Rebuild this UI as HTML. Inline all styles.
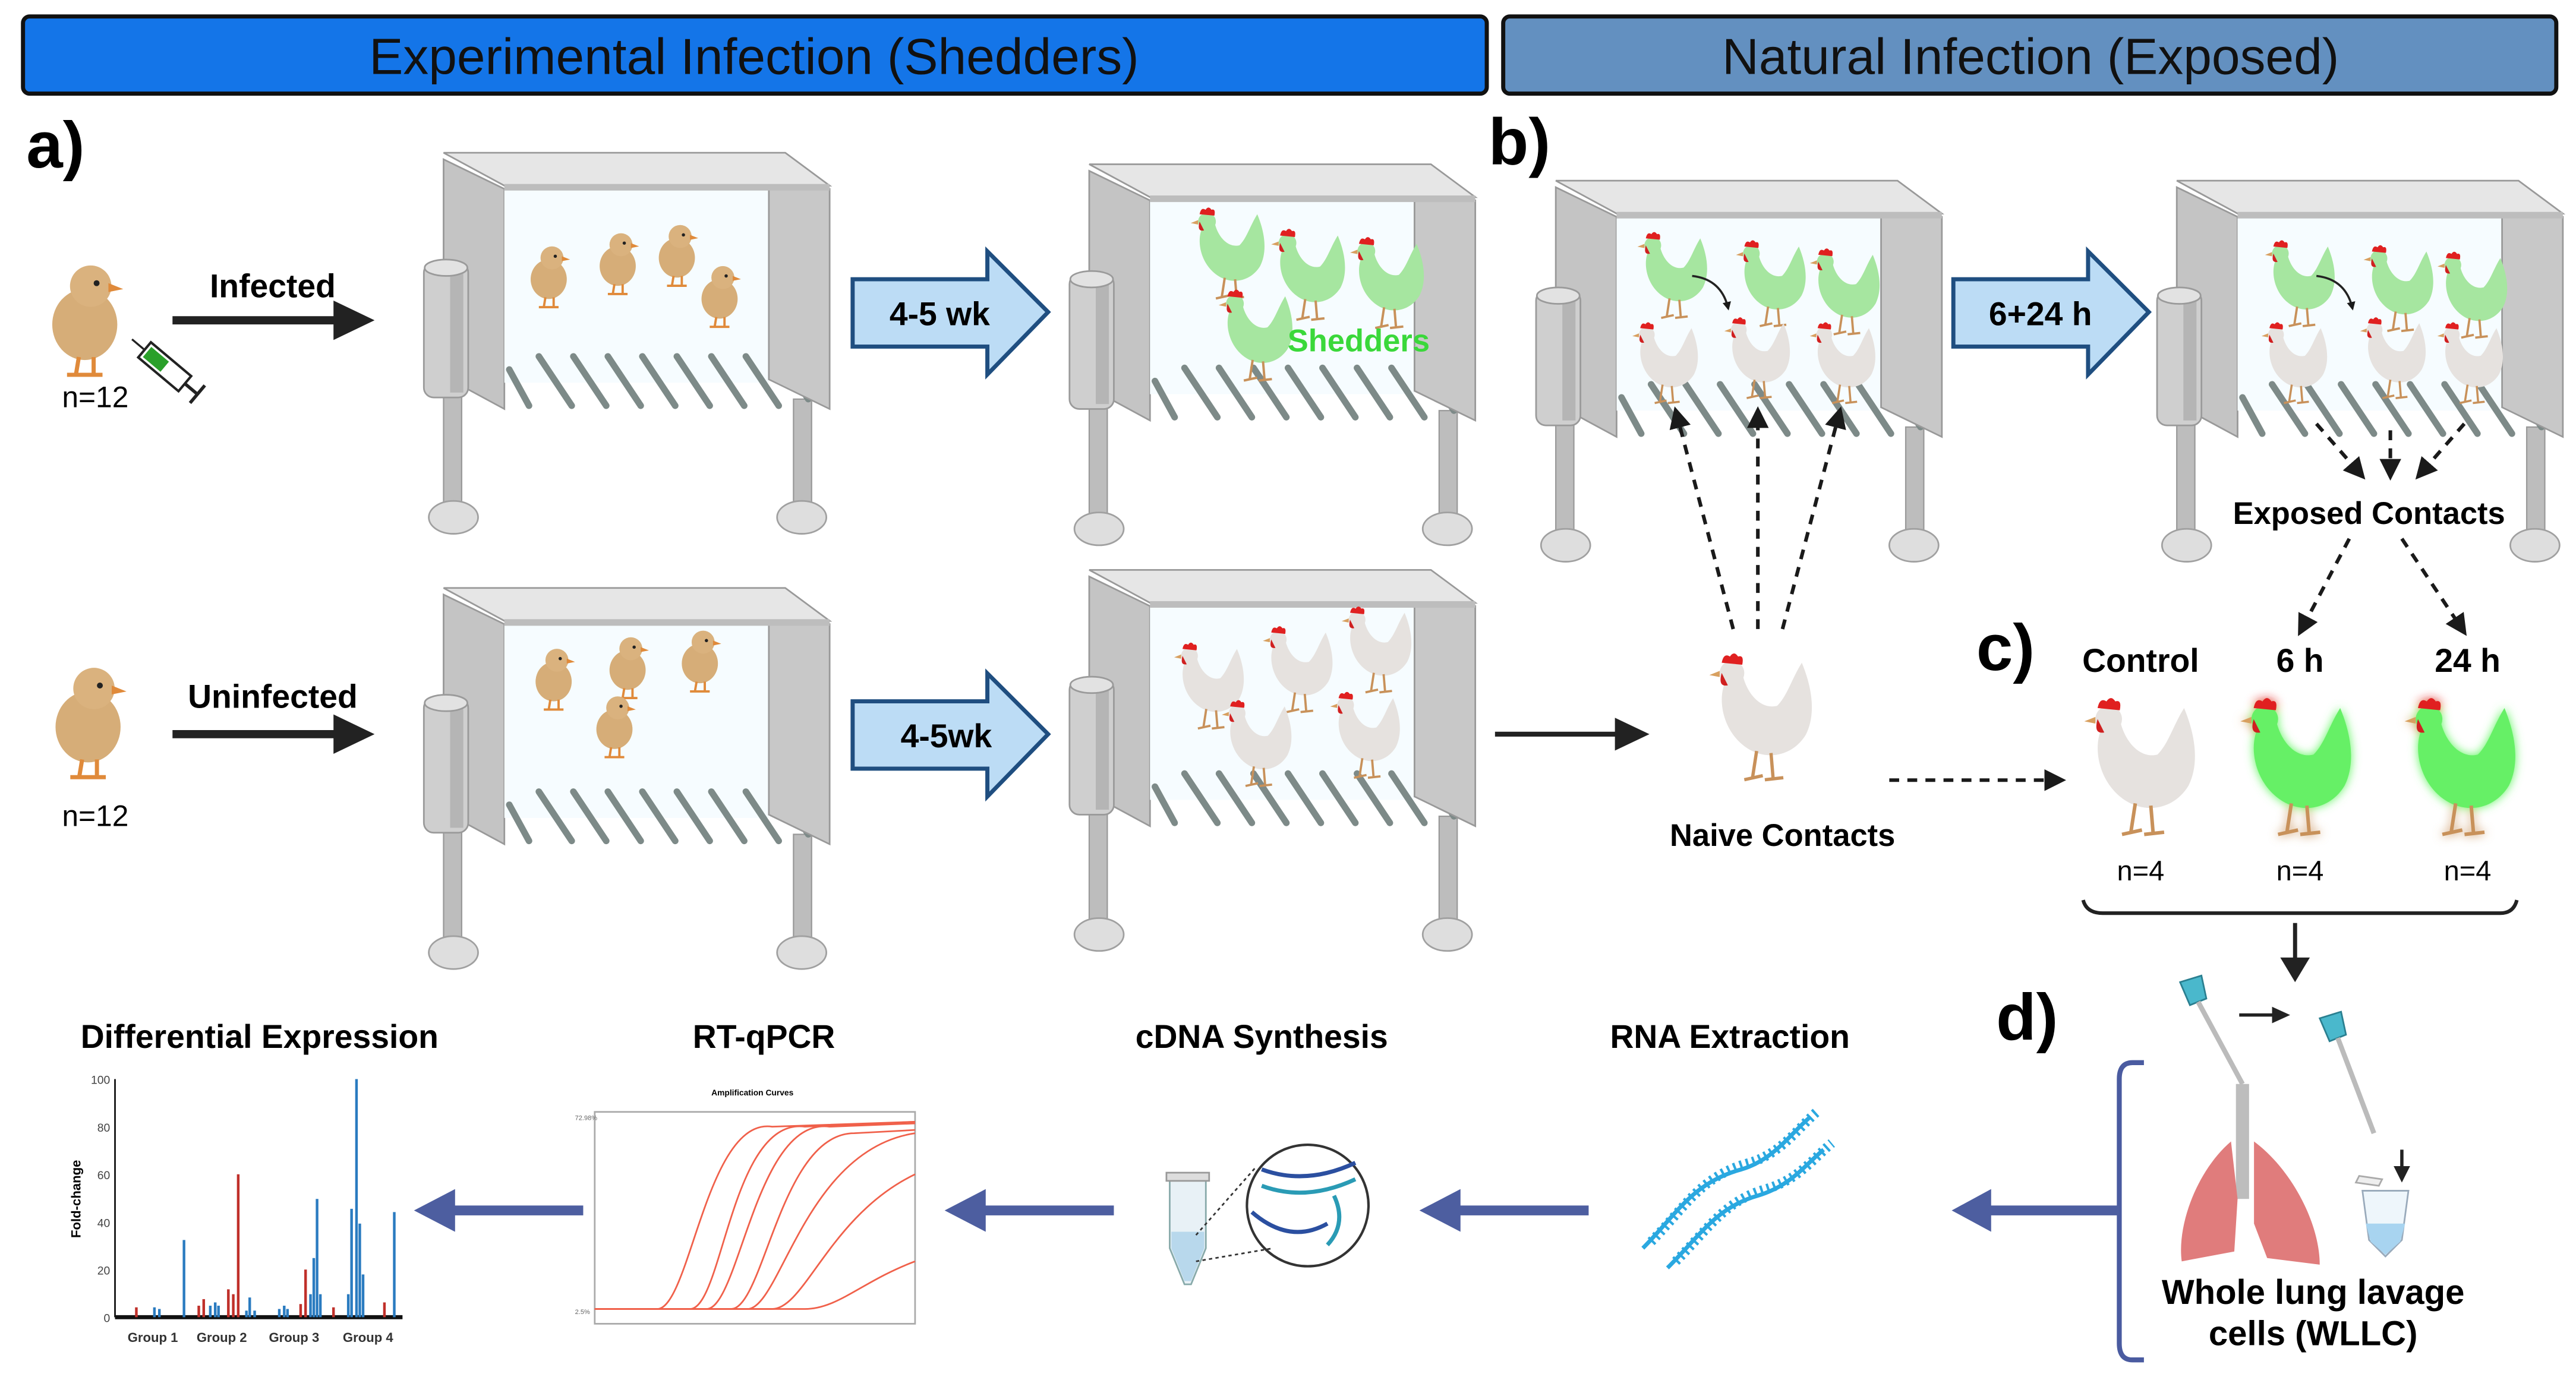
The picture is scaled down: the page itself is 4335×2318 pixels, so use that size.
<!DOCTYPE html>
<html><head><meta charset="utf-8"><style>
html,body{margin:0;padding:0;background:#fff;}
svg{display:block;}
text{font-family:"Liberation Sans",sans-serif;}
</style></head><body>
<svg width="4335" height="2318" viewBox="0 0 1568 838.4" xmlns="http://www.w3.org/2000/svg">
<defs>
<marker id="ah" viewBox="0 0 10 10" refX="8" refY="5" markerWidth="4" markerHeight="4" orient="auto"><path d="M0,0 L10,5 L0,10 Z" fill="#1a1a1a"/></marker>
<marker id="ahs" viewBox="0 0 10 10" refX="8" refY="5" markerWidth="6" markerHeight="6" orient="auto"><path d="M0,0 L10,5 L0,10 Z" fill="#1a1a1a"/></marker>
<g id="cage">
 <rect x="0" y="147" width="11" height="72" fill="#bdbdbd" stroke="#999" stroke-width="0.8"/>
 <ellipse cx="6" cy="222" rx="15" ry="10" fill="#dedede" stroke="#a0a0a0"/>
 <rect x="213" y="150" width="11" height="69" fill="#bdbdbd" stroke="#999" stroke-width="0.8"/>
 <ellipse cx="218" cy="222" rx="15" ry="10" fill="#dedede" stroke="#a0a0a0"/>
 <polygon points="0,4 37,22 37,156 0,136" fill="#c4c4c4" stroke="#999"/>
 <rect x="37" y="22" width="161" height="118" fill="#f6fcff"/>
 <g stroke="#7d8a88" stroke-width="4" stroke-linecap="round">
  <line x1="40" y1="132" x2="52" y2="154"/><line x1="58" y1="124" x2="78" y2="154"/><line x1="79" y1="124" x2="99" y2="154"/><line x1="100" y1="124" x2="120" y2="154"/><line x1="121" y1="124" x2="141" y2="154"/><line x1="142" y1="124" x2="162" y2="154"/><line x1="163" y1="124" x2="183" y2="154"/><line x1="184" y1="124" x2="204" y2="154"/><line x1="205" y1="124" x2="222" y2="150"/>
 </g>
 <polygon points="198,22 235,22 235,156 198,138" fill="#c8c8c8" stroke="#999"/>
 <polygon points="0,0 208,0 235,20 37,20" fill="#e6e6e6" stroke="#999"/>
 <rect x="37" y="19" width="198" height="4" fill="#bdbdbd"/>
 <rect x="-12" y="67" width="27" height="82" rx="6" fill="#cfcfcf" stroke="#9a9a9a"/>
 <rect x="4" y="70" width="8" height="76" fill="#b5b5b5"/>
 <ellipse cx="1.5" cy="70" rx="13" ry="5" fill="#e2e2e2" stroke="#9a9a9a"/>
</g>
<g id="hen">
 <path d="M11,13 C5,22 8,40 21,48 C31,54 43,51 49,41 C54,31 52,18 47,6 C42,14 40,22 35,27 C27,29 20,21 18,11 Z"/>
 <circle cx="13" cy="11" r="6"/>
 <path d="M8,6 Q9,1 12,3 Q14,0 16,3 Q19,2 18,7 Z" fill="#e02020"/>
 <path d="M8,11 Q6,18 11,17 Z" fill="#d02020"/>
 <path d="M7,10 L2,12 L7,13 Z" fill="#d8a060"/>
 <path d="M25,49 L23,62 M32,50 L33,62 M19,63 L28,61 M29,63 L38,62" stroke="#c8915a" stroke-width="1.6" fill="none"/>
</g>
<g id="chick">
 <ellipse cx="12" cy="22" rx="11" ry="12" fill="#d6ad78"/>
 <circle cx="14" cy="9" r="7" fill="#dab27e"/>
 <path d="M20,8 L25,10 L20,11 Z" fill="#e08a3a"/>
 <circle cx="16" cy="8" r="1" fill="#222"/>
 <path d="M10,33 L9,39 M15,33 L15,39 M6,39 L12,39 M12,39 L18,39" stroke="#e08a3a" stroke-width="1.4"/>
</g>
<filter id="glow" x="-30%" y="-30%" width="160%" height="160%"><feGaussianBlur stdDeviation="3"/></filter>
</defs>

<rect x="14" y="10" width="891" height="47" rx="4" fill="#1475e8" stroke="#111" stroke-width="2.5"/>
<text x="459" y="45" font-size="31" text-anchor="middle" fill="#111">Experimental Infection (Shedders)</text>
<rect x="915" y="10" width="641" height="47" rx="4" fill="#6390c0" stroke="#111" stroke-width="2.5"/>
<text x="1236" y="45" font-size="31" text-anchor="middle" fill="#111">Natural Infection (Exposed)</text>

<text x="16" y="102" font-size="40" font-weight="bold">a)</text>
<text x="906" y="100" font-size="40" font-weight="bold">b)</text>
<text x="1203" y="408" font-size="40" font-weight="bold">c)</text>
<text x="1215" y="633" font-size="40" font-weight="bold">d)</text>

<use href="#cage" transform="translate(270,93)"/>
<use href="#cage" transform="translate(663,100)"/>
<use href="#cage" transform="translate(270,358)"/>
<use href="#cage" transform="translate(663,347)"/>
<use href="#cage" transform="translate(947,110)"/>
<use href="#cage" transform="translate(1325,110)"/>

<use href="#chick" transform="translate(322,148) scale(1.0)"/>
<use href="#chick" transform="translate(364,140) scale(1.0)"/>
<use href="#chick" transform="translate(400,135) scale(1.0)"/>
<use href="#chick" transform="translate(426,160) scale(1.0)"/>
<use href="#chick" transform="translate(325,393) scale(1.0)"/>
<use href="#chick" transform="translate(370,386) scale(1.0)"/>
<use href="#chick" transform="translate(414,382) scale(1.0)"/>
<use href="#chick" transform="translate(362,422) scale(1.0)"/>

<use href="#chick" transform="translate(30,158) scale(1.8)"/>
<g transform="translate(88,213) rotate(40)"><rect x="0" y="-6" width="32" height="12" fill="#fff" stroke="#222" stroke-width="1.5"/><rect x="2" y="-4" width="14" height="8" fill="#2aa02a"/><line x1="32" y1="0" x2="42" y2="0" stroke="#222" stroke-width="2"/><line x1="42" y1="-7" x2="42" y2="7" stroke="#222" stroke-width="2"/><line x1="0" y1="0" x2="-10" y2="0" stroke="#222" stroke-width="1.2"/></g>
<text x="58" y="248" font-size="18" text-anchor="middle">n=12</text>
<use href="#chick" transform="translate(32,403) scale(1.8)"/>
<text x="58" y="503" font-size="18" text-anchor="middle">n=12</text>

<text x="166" y="181" font-size="20" font-weight="bold" text-anchor="middle">Infected</text>
<line x1="105" y1="195" x2="205" y2="195" stroke="#222" stroke-width="5"/><path d="M203,183 L228,195 L203,207 Z" fill="#222"/>
<text x="166" y="431" font-size="20" font-weight="bold" text-anchor="middle">Uninfected</text>
<line x1="105" y1="447" x2="205" y2="447" stroke="#222" stroke-width="5"/><path d="M203,435 L228,447 L203,459 Z" fill="#222"/>

<path d="M519,170 L601,170 L601,153 L638,190 L601,228 L601,211 L519,211 Z" fill="#bcdcf5" stroke="#1f4e80" stroke-width="2.5"/>
<text x="572" y="198" font-size="20" font-weight="bold" text-anchor="middle">4-5 wk</text>
<path d="M519,427 L601,427 L601,410 L638,447 L601,485 L601,468 L519,468 Z" fill="#bcdcf5" stroke="#1f4e80" stroke-width="2.5"/>
<text x="576" y="455" font-size="20" font-weight="bold" text-anchor="middle">4-5wk</text>
<path d="M1189,170 L1271,170 L1271,153 L1308,190 L1271,228 L1271,211 L1189,211 Z" fill="#bcdcf5" stroke="#1f4e80" stroke-width="2.5"/>
<text x="1242" y="198" font-size="20" font-weight="bold" text-anchor="middle">6+24 h</text>

<g fill="#a6e6a0">
<use href="#hen" transform="translate(723,125) scale(0.9)"/>
<use href="#hen" transform="translate(772,138) scale(0.9)"/>
<use href="#hen" transform="translate(820,143) scale(0.9)"/>
<use href="#hen" transform="translate(740,175) scale(0.9)"/>
</g>
<text x="827" y="214" font-size="19" font-weight="bold" text-anchor="middle" fill="#3ad83a">Shedders</text>

<g fill="#e6e2df">
<use href="#hen" transform="translate(713,390) scale(0.85)"/>
<use href="#hen" transform="translate(767,380) scale(0.85)"/>
<use href="#hen" transform="translate(815,368) scale(0.85)"/>
<use href="#hen" transform="translate(742,425) scale(0.85)"/>
<use href="#hen" transform="translate(808,420) scale(0.85)"/>
</g>

<g fill="#a6e6a0">
<use href="#hen" transform="translate(995,140) scale(0.85)"/>
<use href="#hen" transform="translate(1055,145) scale(0.85)"/>
<use href="#hen" transform="translate(1100,150) scale(0.85)"/>
</g>
<g fill="#e6e2df">
<use href="#hen" transform="translate(992,195) scale(0.8)"/>
<use href="#hen" transform="translate(1048,192) scale(0.8)"/>
<use href="#hen" transform="translate(1100,195) scale(0.8)"/>
</g>
<path d="M1030,168 Q1048,170 1052,188" stroke="#222" stroke-width="1.3" fill="none" marker-end="url(#ah)"/>
<g fill="#a6e6a0">
<use href="#hen" transform="translate(1377,145) scale(0.85)"/>
<use href="#hen" transform="translate(1437,148) scale(0.85)"/>
<use href="#hen" transform="translate(1482,152) scale(0.85)"/>
</g>
<g fill="#e6e2df">
<use href="#hen" transform="translate(1375,195) scale(0.8)"/>
<use href="#hen" transform="translate(1435,192) scale(0.8)"/>
<use href="#hen" transform="translate(1482,195) scale(0.8)"/>
</g>
<path d="M1410,168 Q1428,170 1432,188" stroke="#222" stroke-width="1.3" fill="none" marker-end="url(#ah)"/>

<g stroke="#1a1a1a" stroke-width="2.2" stroke-dasharray="6,5" fill="none" marker-end="url(#ahs)">
<line x1="1055" y1="383" x2="1020" y2="250"/>
<line x1="1070" y1="383" x2="1070" y2="250"/>
<line x1="1085" y1="383" x2="1120" y2="250"/>
<line x1="1150" y1="475" x2="1255" y2="475"/>
<line x1="1410" y1="258" x2="1438" y2="290"/>
<line x1="1455" y1="262" x2="1455" y2="290"/>
<line x1="1500" y1="258" x2="1472" y2="290"/>
<line x1="1430" y1="328" x2="1400" y2="385"/>
<line x1="1462" y1="328" x2="1500" y2="385"/>
</g>
<text x="1442" y="319" font-size="19" font-weight="bold" text-anchor="middle">Exposed Contacts</text>

<line x1="910" y1="447" x2="985" y2="447" stroke="#222" stroke-width="3"/><path d="M983,437 L1004,447 L983,457 Z" fill="#222"/>
<g fill="#e6e2df"><use href="#hen" transform="translate(1038,396) scale(1.25)"/></g>
<text x="1085" y="515" font-size="19" font-weight="bold" text-anchor="middle">Naive Contacts</text>

<text x="1303" y="409" font-size="20" font-weight="bold" text-anchor="middle">Control</text>
<text x="1400" y="409" font-size="20" font-weight="bold" text-anchor="middle">6 h</text>
<text x="1502" y="409" font-size="20" font-weight="bold" text-anchor="middle">24 h</text>
<g fill="#e6e2df"><use href="#hen" transform="translate(1266,423) scale(1.35)"/></g>
<g fill="#5ef55e" filter="url(#glow)"><use href="#hen" transform="translate(1361,423) scale(1.35)"/><use href="#hen" transform="translate(1461,423) scale(1.35)"/></g>
<g fill="#66f066"><use href="#hen" transform="translate(1361,423) scale(1.35)"/><use href="#hen" transform="translate(1461,423) scale(1.35)"/></g>
<text x="1303" y="536" font-size="17" text-anchor="middle">n=4</text>
<text x="1400" y="536" font-size="17" text-anchor="middle">n=4</text>
<text x="1502" y="536" font-size="17" text-anchor="middle">n=4</text>
<path d="M1268,548 Q1270,556 1280,556 L1522,556 Q1530,556 1532,548" stroke="#222" stroke-width="2.2" fill="none"/>
<line x1="1397" y1="562" x2="1397" y2="585" stroke="#222" stroke-width="2.5"/><path d="M1388,583 L1406,583 L1397,598 Z" fill="#222"/>

<g>
 <path d="M1327,598 L1340,594 L1343,608 L1333,612 Z" fill="#4ab8cc" stroke="#2a7f90"/>
 <line x1="1338" y1="610" x2="1365" y2="660" stroke="#bbb" stroke-width="3"/>
 <path d="M1412,620 L1425,616 L1428,630 L1418,634 Z" fill="#4ab8cc" stroke="#2a7f90"/>
 <line x1="1423" y1="632" x2="1445" y2="690" stroke="#bbb" stroke-width="3"/>
 <line x1="1363" y1="618" x2="1385" y2="618" stroke="#222" stroke-width="2"/><path d="M1383,613 L1394,618 L1383,623 Z" fill="#222"/>
 <line x1="1462" y1="700" x2="1462" y2="712" stroke="#222" stroke-width="2"/><path d="M1457,710 L1467,710 L1462,720 Z" fill="#222"/>
 <rect x="1361" y="660" width="8" height="70" fill="#bdbdbd"/>
 <path d="M1358,695 C1338,712 1325,745 1328,768 L1360,762 L1362,730 Z" fill="#e07c7c"/>
 <path d="M1372,695 C1395,712 1412,745 1412,770 L1380,766 L1372,745 Z" fill="#e07c7c"/>
 <path d="M1438,725 L1466,725 L1462,755 L1452,765 L1442,755 Z" fill="#eef6fb" stroke="#9ab"/>
 <path d="M1440,745 L1464,745 L1461,756 L1452,764 L1443,756 Z" fill="#a8d4f0"/>
 <path d="M1436,716 L1450,718 L1448,722 L1434,720 Z" fill="#eee" stroke="#aaa"/>
</g>
<text x="1408" y="794" font-size="21" font-weight="bold" text-anchor="middle">Whole lung lavage</text>
<text x="1408" y="819" font-size="21" font-weight="bold" text-anchor="middle">cells (WLLC)</text>
<path d="M1305,647 L1298,647 Q1290,647 1290,657 L1290,818 Q1290,828 1298,828 L1305,828" stroke="#4a5ba0" stroke-width="3" fill="none"/>

<g fill="#4d5ea0">
<rect x="1208" y="734" width="82" height="6"/><path d="M1212,724 L1188,737 L1212,750 Z"/>
<rect x="885" y="734" width="82" height="6"/><path d="M889,724 L864,737 L889,750 Z"/>
<rect x="596" y="734" width="82" height="6"/><path d="M600,724 L575,737 L600,750 Z"/>
<rect x="273" y="734" width="82" height="6"/><path d="M277,724 L252,737 L277,750 Z"/>
</g>

<text x="158" y="638" font-size="20" font-weight="bold" text-anchor="middle">Differential Expression</text>
<text x="465" y="638" font-size="20" font-weight="bold" text-anchor="middle">RT-qPCR</text>
<text x="768" y="638" font-size="20" font-weight="bold" text-anchor="middle">cDNA Synthesis</text>
<text x="1053" y="638" font-size="20" font-weight="bold" text-anchor="middle">RNA Extraction</text>

<g fill="none" stroke="#2aa8e0" stroke-width="2.5">
<path d="M1000,760 C1020,740 1030,720 1060,712 C1080,706 1090,690 1102,680"/>
<path d="M1015,772 C1035,752 1045,735 1070,728 C1090,722 1098,710 1110,700"/>
</g>
<g stroke="#2aa8e0" stroke-width="1" stroke-dasharray="1.5,2.5">
<path d="M1000,760 C1020,740 1030,720 1060,712 C1080,706 1090,690 1102,680" transform="translate(5,-4)" fill="none" stroke-width="6"/>
<path d="M1015,772 C1035,752 1045,735 1070,728 C1090,722 1098,710 1110,700" transform="translate(5,-4)" fill="none" stroke-width="6"/>
</g>

<path d="M712,718 L734,718 L734,760 L725,782 L721,782 L712,760 Z" fill="#e8f1f6" stroke="#8aa"/>
<path d="M713,750 L733,750 L733,760 L725,780 L721,780 L713,760 Z" fill="#b8d8ec"/>
<rect x="710" y="714" width="26" height="5" fill="#ddd" stroke="#999"/>
<circle cx="796" cy="734" r="37" fill="#fff" stroke="#333" stroke-width="1.5"/>
<line x1="728" y1="752" x2="765" y2="710" stroke="#333" stroke-dasharray="2,2"/>
<line x1="728" y1="768" x2="775" y2="760" stroke="#333" stroke-dasharray="2,2"/>
<g fill="none" stroke="#2b4fa0" stroke-width="2.5">
<path d="M768,712 Q795,722 825,708"/><path d="M768,722 Q795,732 825,718" stroke="#2a9bb5"/>
<path d="M762,738 Q785,758 808,745"/><path d="M812,728 Q820,745 808,758" stroke="#2a9bb5"/>
</g>

<text x="458" y="667" font-size="5" font-weight="bold" text-anchor="middle">Amplification Curves</text>
<rect x="362" y="677" width="195" height="129" fill="#fff" stroke="#aaa"/>
<g fill="none" stroke="#f0604a" stroke-width="1">
<path d="M362,797 L400,797 C420,797 430,680 470,686 L557,683"/>
<path d="M362,797 L420,797 C440,797 445,680 490,686 L557,683"/>
<path d="M362,797 L430,797 C450,797 460,680 505,686 L557,684"/>
<path d="M362,797 L445,797 C465,797 475,690 520,690 L557,688"/>
<path d="M362,797 L455,797 C475,797 490,700 557,690"/>
<path d="M362,797 L470,797 C490,797 505,740 557,715"/>
<path d="M362,797 L490,797 C510,797 525,780 557,768"/>
</g>
<g font-size="4" fill="#666"><text x="350" y="682">72.98%</text><text x="350" y="800">2.5%</text></g>

<line x1="70" y1="657" x2="70" y2="802" stroke="#111"/>
<line x1="70" y1="802" x2="245" y2="802" stroke="#111" stroke-width="2.5"/>
<g font-size="7" fill="#444" text-anchor="end">
<text x="67" y="660">100</text><text x="67" y="689">80</text><text x="67" y="718">60</text><text x="67" y="747">40</text><text x="67" y="776">20</text><text x="67" y="805">0</text>
</g>
<text transform="translate(49,730) rotate(-90)" font-size="8" font-weight="bold" text-anchor="middle">Fold-change</text>
<g font-size="8" font-weight="bold" fill="#333" text-anchor="middle">
<text x="93" y="817">Group 1</text><text x="135" y="817">Group 2</text><text x="179" y="817">Group 3</text><text x="224" y="817">Group 4</text>
</g>
<g stroke-width="1.6">
<line x1="83" y1="802" x2="83" y2="796" stroke="#c0302a"/>
<line x1="94" y1="802" x2="94" y2="796" stroke="#2a7bc0"/><line x1="97" y1="802" x2="97" y2="797" stroke="#2a7bc0"/>
<line x1="112" y1="802" x2="112" y2="755" stroke="#2a7bc0"/>
<line x1="121" y1="802" x2="121" y2="795" stroke="#c0302a"/><line x1="124" y1="802" x2="124" y2="791" stroke="#c0302a"/>
<line x1="128" y1="802" x2="128" y2="795" stroke="#2a7bc0"/><line x1="131" y1="802" x2="131" y2="793" stroke="#2a7bc0"/><line x1="133" y1="802" x2="133" y2="795" stroke="#2a7bc0"/>
<line x1="139" y1="802" x2="139" y2="785" stroke="#c0302a"/><line x1="142" y1="802" x2="142" y2="788" stroke="#c0302a"/><line x1="145" y1="802" x2="145" y2="715" stroke="#c0302a"/>
<line x1="150" y1="802" x2="150" y2="798" stroke="#2a7bc0"/><line x1="152" y1="802" x2="152" y2="790" stroke="#2a7bc0"/><line x1="155" y1="802" x2="155" y2="798" stroke="#2a7bc0"/>
<line x1="170" y1="802" x2="170" y2="797" stroke="#2a7bc0"/><line x1="173" y1="802" x2="173" y2="795" stroke="#2a7bc0"/><line x1="175" y1="802" x2="175" y2="797" stroke="#2a7bc0"/>
<line x1="183" y1="802" x2="183" y2="794" stroke="#c0302a"/><line x1="186" y1="802" x2="186" y2="773" stroke="#c0302a"/>
<line x1="189" y1="802" x2="189" y2="788" stroke="#2a7bc0"/><line x1="191" y1="802" x2="191" y2="766" stroke="#2a7bc0"/><line x1="193" y1="802" x2="193" y2="730" stroke="#2a7bc0"/><line x1="195" y1="802" x2="195" y2="788" stroke="#2a7bc0"/>
<line x1="203" y1="802" x2="203" y2="796" stroke="#c0302a"/>
<line x1="212" y1="802" x2="212" y2="788" stroke="#2a7bc0"/><line x1="214" y1="802" x2="214" y2="736" stroke="#2a7bc0"/><line x1="217" y1="802" x2="217" y2="657" stroke="#2a7bc0"/><line x1="219" y1="802" x2="219" y2="745" stroke="#2a7bc0"/><line x1="221" y1="802" x2="221" y2="776" stroke="#2a7bc0"/>
<line x1="234" y1="802" x2="234" y2="793" stroke="#c0302a"/><line x1="240" y1="802" x2="240" y2="738" stroke="#2a7bc0"/>
</g>
</svg>
</body></html>
